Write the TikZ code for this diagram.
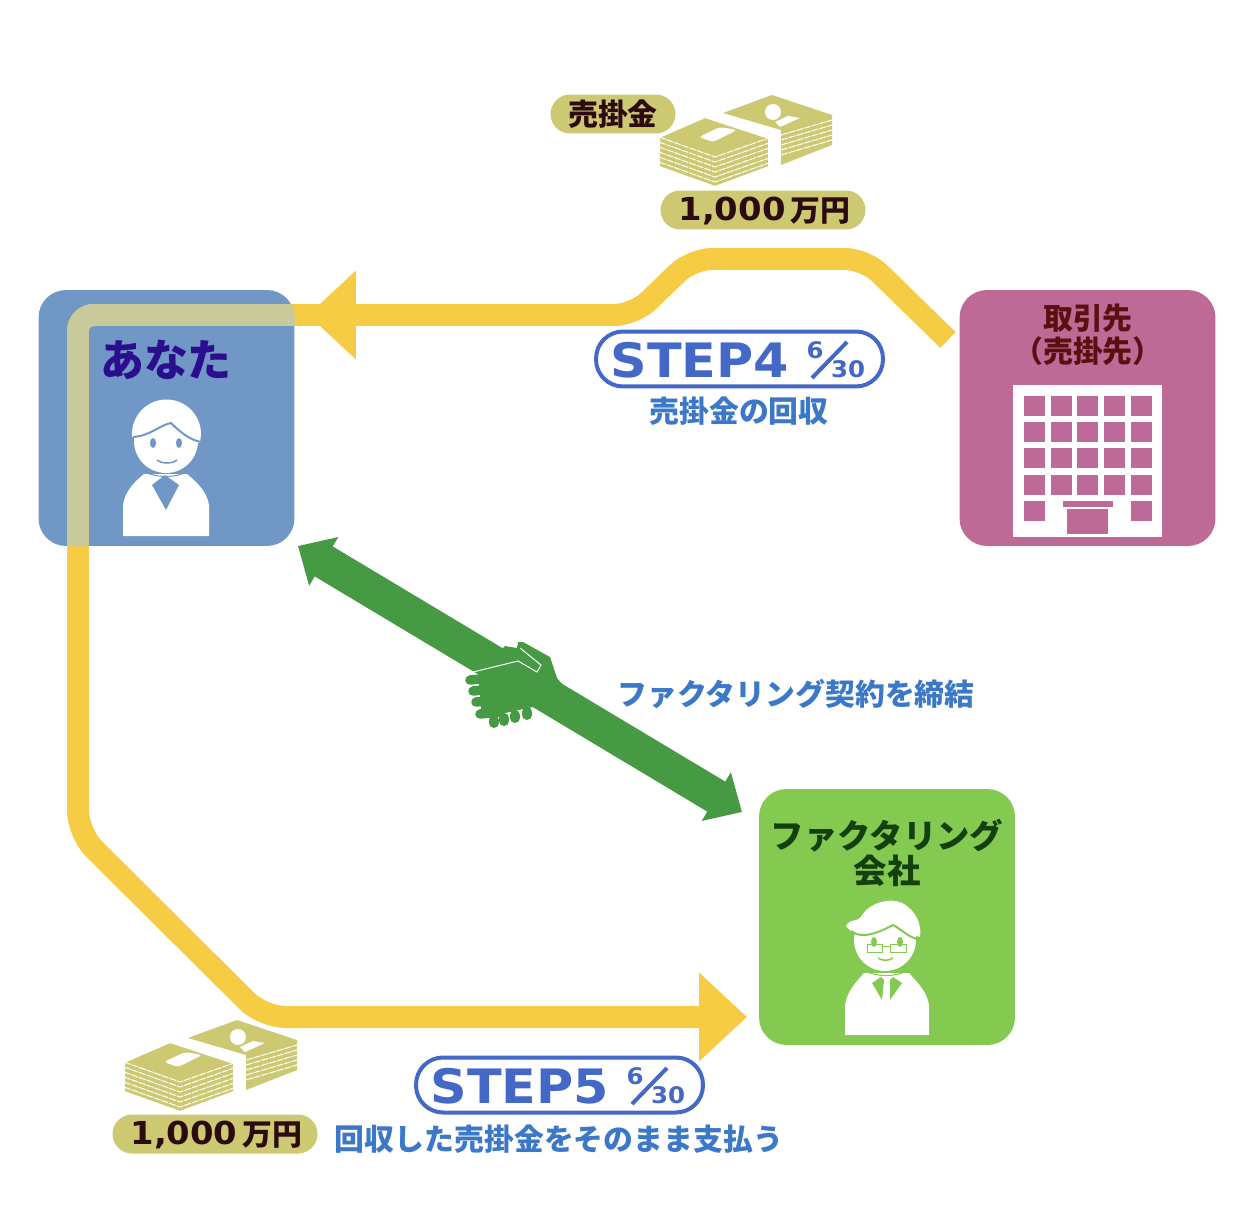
\documentclass[tikz,border=0pt]{standalone}
\usepackage{fontspec}
\usepackage{xcolor}
\usetikzlibrary{arrows.meta}
\newfontfamily\jpfont{Noto Sans CJK JP}
\newfontfamily\latinfont[FakeStretch=1.07]{DejaVu Sans}
\definecolor{youblue}{HTML}{7097C6}
\definecolor{partnerpink}{HTML}{BD6A96}
\definecolor{factorgreen}{HTML}{84C950}
\definecolor{payyellow}{HTML}{F6CC44}
\definecolor{payoverlap}{HTML}{C9CA9C}
\definecolor{moneykhaki}{HTML}{CDC973}
\definecolor{dealgreen}{HTML}{459A43}
\definecolor{stepblue}{HTML}{4468C6}
\definecolor{notedblue}{HTML}{3B78C8}
\definecolor{youtext}{HTML}{2A0E8E}
\definecolor{partnertext}{HTML}{5A1010}
\definecolor{factortext}{HTML}{14400F}
\definecolor{moneytext}{HTML}{2B0A10}
\tikzset{
  roombox/.style={minimum size=5.12cm,inner sep=0pt,rounded corners=0.55cm,fill=#1},
  jptext/.style={inner sep=0pt,align=center,font=\jpfont\bfseries\fontsize{#1}{#1}\selectfont},
  pricepill/.style={fill=moneykhaki,rounded corners=0.39cm,minimum height=0.78cm,minimum width=#1,inner sep=0pt},
  sumtext/.style={inner sep=0pt,text=moneytext,font=\latinfont\bfseries\fontsize{18}{18}\selectfont},
  steppill/.style={draw=stepblue,line width=0.08cm,rounded corners=0.54cm,minimum height=1.1cm,minimum width=5.74cm,inner sep=0pt},
  steptext/.style={inner sep=0pt,text=stepblue,font=\latinfont\bfseries\fontsize{#1}{#1}\selectfont},
  payline/.style={line width=0.44cm},
  paytip/.style={-{Triangle[length=0.96cm,width=1.72cm]}},
  dealtip/.style={{Triangle[length=0.6cm,width=1.1cm]}-{Triangle[length=0.6cm,width=1.1cm]}},
  stripe/.style={white,line width=0.02cm,dash pattern=on 0.14cm off 0.02cm},
}
\newcommand{\returnroute}{(youdoor) [rounded corners=0.32cm] -- (78,315) [rounded corners=0.45cm] -- (78,833) -- (263,1017) -- (500,1017) [sharp corners] -- (factorport)}
% one pile of notes, drawn at the position of the upper pile
\newcommand{\moneypile}{
  % rear stack
  \fill[moneykhaki] (723,113) -- (772,95) -- (832,115) -- (832,145) -- (781,165) -- (781,130) -- cycle;
  \foreach \i in {1,...,5}
    \draw[stripe] (781,130+5*\i) -- (832,115+5*\i);
  \fill[white] (773,112) circle (8);
  \fill[white] (775,122) -- (788,116) -- (800,118) -- (780,127) -- cycle;
  % front stack
  \fill[moneykhaki,draw=white,line width=0.04cm] (659,137) -- (705,117) -- (769,138) -- (769,167) -- (715,187) -- (659,167) -- cycle;
  \draw[stripe] (659,137) -- (715,157) -- (769,138);
  \foreach \i in {1,...,5} {
    \draw[stripe] (659,137+5*\i) -- (715,157+5*\i) -- (769,138+5*\i);
  }
  \fill[white,rounded corners=0.06cm] (699,137) -- (720,127) -- (737,130) -- (713,142) -- cycle;
}

\begin{document}
\begin{tikzpicture}[x=0.02cm,y=-0.02cm]
  \useasboundingbox (0,0) rectangle (1258,1206);

  % You
  \node[roombox=youblue] (you) at (166.5,418) {};
  \node[jptext=25,text=youtext] (younote) at (166,360) {あなた};
  \fill[white] (132,434) arc[start angle=180,end angle=360,radius=34.5] -- (200,443) -- (132,437);
  \fill[white] (166,441) circle (32);
  \draw[youblue,line width=0.04cm] (133,437) .. controls (150,436) and (160,425) .. (171,423) .. controls (180,432) and (190,440) .. (201,442);
  \fill[youblue] (153,443) ellipse (3 and 5);
  \fill[youblue] (179,443) ellipse (3 and 5);
  \draw[youblue,line width=0.03cm] (157,460) .. controls (162,464) and (172,464) .. (177,460);
  \fill[white] (123,536) -- (123,505) .. controls (125,492) and (133,483) .. (144,474) -- (187,474) .. controls (198,483) and (207,492) .. (209,505) -- (209,536) -- cycle;
  \draw[youblue,line width=0.02cm] (146,472) .. controls (155,478) and (177,478) .. (186,472);
  \fill[youblue] (152,485) -- (165,475) -- (179,485) -- (166,510) -- cycle;

  % Partner
  \node[roombox=partnerpink] (partner) at (1087.5,418) {};
  \node[jptext=17,text=partnertext] (partnernote) at (1088,335) {取引先\\[2pt]（売掛先）};
  \fill[white] (1013,385) rectangle (1162,537);
  \foreach \x in {1024,1051,1077,1104,1131}
    \foreach \y in {396,422,448,475}
      \fill[partnerpink] (\x,\y) rectangle +(21,20);
  \fill[partnerpink] (1024,501) rectangle +(21,20);
  \fill[partnerpink] (1131,501) rectangle +(21,20);
  \fill[partnerpink] (1063,501) rectangle (1113,507);
  \fill[partnerpink] (1067,509) rectangle (1108,534);

  % Factoring company
  \node[roombox=factorgreen] (factor) at (887,917) {};
  \node[jptext=19,text=factortext] (factornote) at (887,853) {ファクタリング\\[1pt]会社};
  \fill[white] (885,940) circle (31);
  \fill[white] (846,926) .. controls (850,918) and (858,922) .. (861,917) .. controls (868,903) and (890,897) .. (902,903) .. controls (916,910) and (922,925) .. (920,937) .. controls (908,935) and (900,925) .. (893,923) .. controls (880,932) and (855,940) .. (846,926) -- cycle;
  \draw[factorgreen,line width=0.04cm] (851,931) .. controls (862,940) and (880,932) .. (893,925) .. controls (900,928) and (908,938) .. (921,940);
  \fill[factorgreen] (874,942) ellipse (3 and 5);
  \fill[factorgreen] (900,942) ellipse (3 and 5);
  \draw[factorgreen,line width=0.02cm] (867,944) rectangle (882,952) (890,944) rectangle (906,952) (882,946) -- (890,946);
  \draw[factorgreen,line width=0.03cm] (878,958) .. controls (882,961) and (889,961) .. (893,958);
  \fill[white] (845,1035) -- (845,1005) .. controls (847,992) and (855,983) .. (864,973) -- (909,973) .. controls (918,983) and (927,992) .. (929,1005) -- (929,1035) -- cycle;
  \draw[factorgreen,line width=0.02cm] (866,971) .. controls (875,977) and (897,977) .. (906,971);
  \fill[factorgreen] (872,983) -- (881,977) -- (884,980) -- (882,1000) -- cycle;
  \fill[factorgreen] (902,983) -- (893,977) -- (890,980) -- (890,1000) -- cycle;

  % Payment from partner
  \coordinate (partnerport) at (948,340);
  \coordinate (youport) at (308,315);
  \coordinate (youdoor) at (330,315);
  \coordinate (factorport) at (747,1017);
  \draw[payline,payyellow,paytip] (partnerport) [rounded corners=0.4cm] -- (865,259) -- (692,259) -- (634,315) -- (500,315) [sharp corners] -- (youport);

  % Payment to factoring company
  \draw[payline,payyellow,paytip] \returnroute;
  \begin{scope}
    \clip[rounded corners=0.55cm] (you.south west) rectangle (you.north east);
    \draw[payline,payoverlap] \returnroute;
  \end{scope}

  % Agreement
  \coordinate (dealleft) at (298,546);
  \coordinate (dealright) at (742,812);
  \draw[line width=0.7cm,dealgreen,dealtip] (dealleft) -- (dealright);

  % Handshake
  \fill[dealgreen] (478,673) -- (505,646) -- (517,648) -- (518,642) -- (523,642) -- (550,657) -- (557,678) -- (575,700) -- (533,707) -- (482,718) -- cycle;
  \foreach \x/\y in {470/680,473/691,476/702,480/714}
    \draw[dealgreen,line width=0.19cm,line cap=round] (\x,\y) -- (\x+20,\y-2);
  \foreach \x/\y in {494/722,504/720,515/717,527/714}
    \fill[dealgreen,rounded corners=0.1cm] (\x-5,\y-7) rectangle (\x+5,\y+6);
  \draw[white,line width=0.02cm] (473,672) -- (518,661) -- (537,672) -- (541,665) -- (520,648);

  % Notes at the top
  \moneypile
  \node[pricepill=2.5cm] (salespill) at (613,114) {};
  \node[jptext=17,text=moneytext] (salesnote) at (613,114) {売掛金};
  \node[pricepill=4.1cm] (toppill) at (763,210) {};
  \node[sumtext] (topsum) at (732,211) {1,000};
  \node[jptext=17,text=moneytext] (topunit) at (820,211) {万円};

  % Notes at the bottom
  \begin{scope}[shift={(-535,925)}]
    \moneypile
  \end{scope}
  \node[pricepill=4.1cm] (lowpill) at (215,1134) {};
  \node[sumtext] (lowsum) at (184,1135) {1,000};
  \node[jptext=17,text=moneytext] (lowunit) at (272,1135) {万円};

  % Step 4
  \node[steppill] (stepfour) at (739.5,359) {};
  \node[steptext=27] (stepfourname) at (700,360) {STEP4};
  \node[steptext=13] (stepfourday) at (815,350) {6};
  \node[steptext=13] (stepfourmonth) at (848,369) {30};
  \draw[stepblue,line width=0.08cm] (847,342) -- (812,378);
  \node[jptext=17,text=notedblue] (stepfournote) at (739,411) {売掛金の回収};

  % Step 5
  \node[steppill] (stepfive) at (559.5,1085) {};
  \node[steptext=27] (stepfivename) at (520,1086) {STEP5};
  \node[steptext=13] (stepfiveday) at (635,1076) {6};
  \node[steptext=13] (stepfivemonth) at (668,1095) {30};
  \draw[stepblue,line width=0.08cm] (667,1068) -- (632,1104);
  \node[jptext=17,text=notedblue] (stepfivenote) at (559,1139) {回収した売掛金をそのまま支払う};

  % Agreement note
  \node[jptext=17,text=notedblue] (dealnote) at (796,694) {ファクタリング契約を締結};
\end{tikzpicture}
\end{document}
